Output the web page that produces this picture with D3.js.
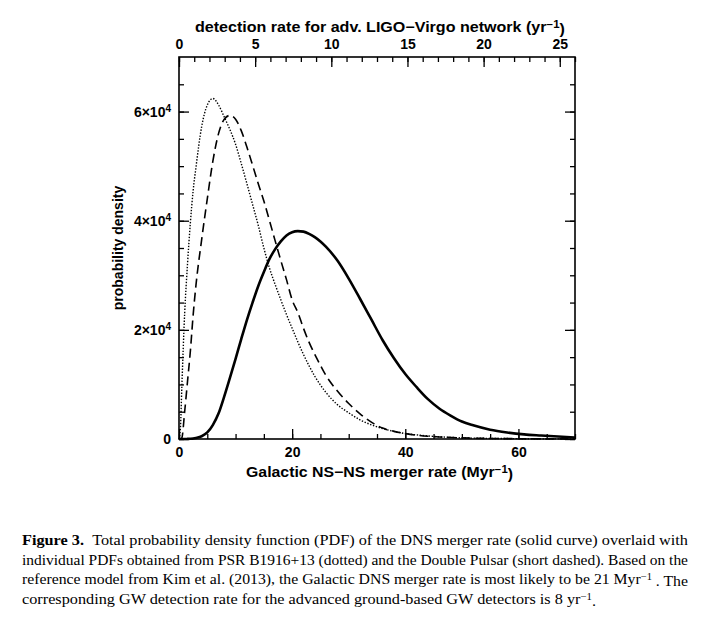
<!DOCTYPE html>
<html>
<head>
<meta charset="utf-8">
<script src="https://cdn.jsdelivr.net/npm/d3@7"></script>
<style>
  body { margin: 0; background: #fff; }
  svg { display: block; }
</style>
</head>
<body>
<div id="chart"></div>
<script>
const svgWidth = 716;
const svgHeight = 635;

// Chart values (probability density in units of 1e4, rate in Myr^-1)
const rate = [0, 0.25, 0.5, 1, 1.5, 2, 2.5, 3, 4, 5, 6, 7, 8, 9, 10, 11, 12, 13, 14, 15, 16, 17, 18, 19, 20,
  21, 22, 23, 24, 25, 26, 28, 30, 32, 34, 36, 38, 40, 42, 44, 46, 48, 50, 52, 55, 58, 61, 64, 67, 70];
const totalPdf = [0, 0, 0, 0, 0.002, 0.005, 0.01, 0.02, 0.05, 0.12, 0.26, 0.47, 0.78, 1.12, 1.47, 1.83, 2.18, 2.50, 2.80, 3.06, 3.30, 3.48, 3.62, 3.73, 3.79,
  3.81, 3.80, 3.76, 3.70, 3.62, 3.52, 3.27, 2.94, 2.57, 2.19, 1.81, 1.48, 1.19, 0.95, 0.73, 0.56, 0.43, 0.32, 0.25, 0.17, 0.12, 0.085, 0.064, 0.045, 0.028];
const b1916Pdf = [0, 0.2, 0.95, 2.3, 3.2, 3.95, 4.55, 4.98, 5.72, 6.12, 6.24, 6.12, 5.90, 5.67, 5.40, 5.05, 4.68, 4.30, 3.92, 3.50, 3.13, 2.83, 2.55, 2.28, 2.03,
  1.78, 1.55, 1.34, 1.15, 0.99, 0.85, 0.63, 0.48, 0.35, 0.26, 0.19, 0.14, 0.10, 0.075, 0.055, 0.04, 0.03, 0.02, 0.016, 0.011, 0.008, 0.005, 0.003, 0.002, 0.001];
const doublePulsarPdf = [0, 0, 0.02, 0.5, 1.05, 1.6, 2.27, 2.82, 3.65, 4.40, 5.10, 5.60, 5.86, 5.93, 5.86, 5.65, 5.35, 5.02, 4.68, 4.36, 4.00, 3.63, 3.27, 2.92, 2.55,
  2.32, 2.03, 1.77, 1.55, 1.35, 1.16, 0.88, 0.65, 0.46, 0.31, 0.20, 0.14, 0.10, 0.07, 0.05, 0.038, 0.028, 0.02, 0.015, 0.01, 0.007, 0.005, 0.003, 0.002, 0.001];

const bottomMajorTicks = [0, 20, 40, 60];
const topMajorTicks = [0, 5, 10, 15, 20, 25];
const leftMajorTicks = [0, 2e4, 4e4, 6e4];

const captionLines = [
  'Total probability density function (PDF) of the DNS merger rate (solid curve) overlaid with',
  'individual PDFs obtained from PSR B1916+13 (dotted) and the Double Pulsar (short dashed). Based on the',
  'reference model from Kim et al. (2013), the Galactic DNS merger rate is most likely to be 21 Myr',
  'corresponding GW detection rate for the advanced ground-based GW detectors is 8 yr'
];

const margin = { top: 57, left: 179 };
const chartWidth = 396;
const chartHeight = 382;
const axisFont = '"Liberation Sans", Arial, sans-serif';
const captionFont = '"Liberation Serif", "Times New Roman", serif';

const svg = d3.select('#chart').append('svg').attr('width', svgWidth).attr('height', svgHeight);
const g = svg.append('g').attr('transform', `translate(${margin.left},${margin.top})`);

const xScale = d3.scaleLinear().domain([0, 70]).range([0, chartWidth]);
const xTopScale = d3.scaleLinear().domain([0, 26]).range([0, chartWidth]);
const yScale = d3.scaleLinear().domain([0, 7e4]).range([chartHeight, 0]);

// axes with inward ticks; minor axes are drawn without labels
function styleAxis(sel) {
  sel.select('.domain').remove();
  sel.selectAll('line').attr('stroke', '#000').attr('stroke-width', 1.3);
  sel.selectAll('text')
    .attr('fill', '#000')
    .style('font-family', axisFont)
    .style('font-weight', 'bold')
    .style('font-size', '14px');
}

g.append('g')
  .attr('transform', `translate(0,${chartHeight})`)
  .call(d3.axisBottom(xScale).tickValues(d3.range(0, 71, 5)).tickSize(-5).tickFormat(''))
  .call(styleAxis);
g.append('g')
  .attr('transform', `translate(0,${chartHeight})`)
  .call(d3.axisBottom(xScale).tickValues(bottomMajorTicks).tickSize(-10).tickFormat(d3.format('d')))
  .call(styleAxis)
  .selectAll('text').attr('y', 17.5).attr('dy', 0);

g.append('g')
  .call(d3.axisTop(xTopScale).tickValues(d3.range(0, 27, 1)).tickSize(-5).tickFormat(''))
  .call(styleAxis);
g.append('g')
  .call(d3.axisTop(xTopScale).tickValues(topMajorTicks).tickSize(-10).tickFormat(d3.format('d')))
  .call(styleAxis)
  .selectAll('text').attr('y', -8).attr('dy', 0);

const yMinor = d3.range(0, 7e4, 5000);
g.append('g')
  .call(d3.axisLeft(yScale).tickValues(yMinor).tickSize(-5).tickFormat(''))
  .call(styleAxis);
g.append('g')
  .attr('transform', `translate(${chartWidth},0)`)
  .call(d3.axisRight(yScale).tickValues(yMinor).tickSize(-5).tickFormat(''))
  .call(styleAxis);
g.append('g')
  .attr('transform', `translate(${chartWidth},0)`)
  .call(d3.axisRight(yScale).tickValues(leftMajorTicks).tickSize(-10).tickFormat(''))
  .call(styleAxis);

const yAxis = g.append('g')
  .call(d3.axisLeft(yScale).tickValues(leftMajorTicks).tickSize(-10))
  .call(styleAxis);
yAxis.selectAll('text').attr('x', -8).each(function (d) {
  const t = d3.select(this).text(null);
  if (d === 0) { t.text('0'); return; }
  t.append('tspan').text(`${d / 1e4}×10`);
  t.append('tspan').attr('dy', '-0.45em').style('font-size', '10px').text('4');
});

// frame
g.append('rect')
  .attr('width', chartWidth)
  .attr('height', chartHeight)
  .attr('fill', 'none')
  .attr('stroke', '#000')
  .attr('stroke-width', 1.6);

// curves
const line = values => d3.line()
  .x((d, i) => xScale(rate[i]))
  .y(d => yScale(d * 1e4))
  .curve(d3.curveMonotoneX)(values);

g.append('path').attr('d', line(b1916Pdf))
  .attr('fill', 'none').attr('stroke', '#000').attr('stroke-width', 1.4).attr('stroke-dasharray', '1.4,1.6');
g.append('path').attr('d', line(doublePulsarPdf))
  .attr('fill', 'none').attr('stroke', '#000').attr('stroke-width', 1.6).attr('stroke-dasharray', '9,5');
g.append('path').attr('d', line(totalPdf))
  .attr('fill', 'none').attr('stroke', '#000').attr('stroke-width', 2.6);

// axis titles
const topTitle = svg.append('text')
  .attr('x', 195).attr('y', 32)
  .attr('textLength', 370).attr('lengthAdjust', 'spacingAndGlyphs')
  .style('font-family', axisFont).style('font-weight', 'bold').style('font-size', '14px')
  .text('detection rate for adv. LIGO\u2212Virgo network (yr');
topTitle.append('tspan').attr('dy', '-0.45em').style('font-size', '10px').text('\u22121');
topTitle.append('tspan').attr('dy', '0.45em').text(')');

const bottomTitle = svg.append('text')
  .attr('x', 246).attr('y', 477)
  .attr('textLength', 267).attr('lengthAdjust', 'spacingAndGlyphs')
  .style('font-family', axisFont).style('font-weight', 'bold').style('font-size', '14px')
  .text('Galactic NS\u2212NS merger rate (Myr');
bottomTitle.append('tspan').attr('dy', '-0.45em').style('font-size', '10px').text('\u22121');
bottomTitle.append('tspan').attr('dy', '0.45em').text(')');

svg.append('text')
  .attr('transform', `translate(123,${margin.top + chartHeight / 2}) rotate(-90)`)
  .attr('text-anchor', 'middle')
  .style('font-family', axisFont).style('font-weight', 'bold').style('font-size', '14px')
  .text('probability density');

// caption
const captionY = [545, 564.5, 584, 603.5];
const captionWidth = [666, 666, 666, 574];
captionLines.forEach((txt, i) => {
  const t = svg.append('text')
    .attr('x', 22).attr('y', captionY[i])
    .attr('textLength', captionWidth[i]).attr('lengthAdjust', 'spacingAndGlyphs')
    .style('font-family', captionFont).style('font-size', '15px');
  if (i === 0) {
    t.append('tspan').style('font-weight', 'bold').text('Figure 3.');
    t.append('tspan').text('\u2002' + txt);
  } else {
    t.append('tspan').text(txt);
  }
  if (i === 2) {
    t.append('tspan').attr('dy', '-0.4em').style('font-size', '10px').text('\u22121');
    t.append('tspan').attr('dy', '0.4em').text(' . The');
  }
  if (i === 3) {
    t.append('tspan').attr('dy', '-0.4em').style('font-size', '10px').text('\u22121');
    t.append('tspan').attr('dy', '0.4em').text('.');
  }
});
</script>
</body>
</html>
